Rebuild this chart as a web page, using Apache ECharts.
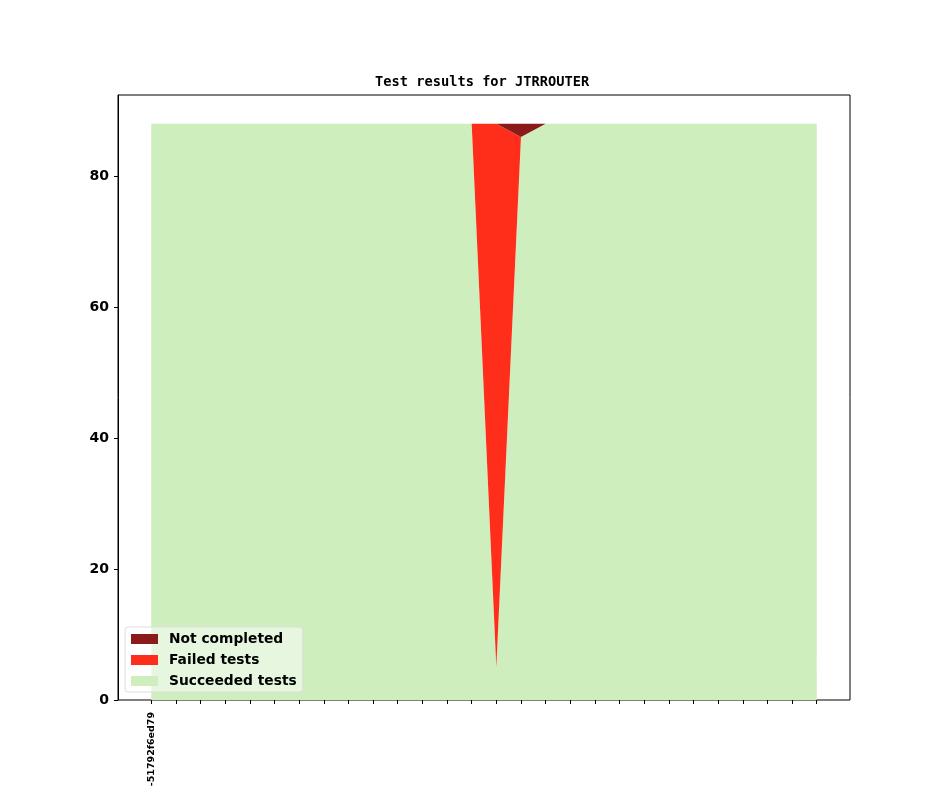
<!DOCTYPE html>
<html>
<head>
<meta charset="utf-8">
<script src="https://cdn.jsdelivr.net/npm/echarts@6/dist/echarts.min.js"></script>
<style>html,body{margin:0;padding:0;background:#fff;}#c{width:944px;height:787px;}</style>
</head>
<body>
<div id="c"></div>
<script>
var categories = ['-51792f6ed79','','','','','','','','','','','','','','','','','','','','','','','','','','',''];
var succeeded = [88,88,88,88,88,88,88,88,88,88,88,88,88,88,5,86,88,88,88,88,88,88,88,88,88,88,88,88];
var failed =    [0,0,0,0,0,0,0,0,0,0,0,0,0,0,83,0,0,0,0,0,0,0,0,0,0,0,0,0];
var notCompleted = [0,0,0,0,0,0,0,0,0,0,0,0,0,0,0,2,0,0,0,0,0,0,0,0,0,0,0,0];
var yTicks = [0,20,40,60,80];

var yMax = 88 * 1.05;
// frame box (matplotlib axes) and the inner data extent (5% margins on x)
var chartW = 944, frameL = 118, frameR = 94, frameT = 95, frameB = 87;
var frameW = chartW - frameL - frameR;
var inset = frameW * 0.05 / 1.1;

var chart = echarts.init(document.getElementById('c'));
chart.setOption({
  animation: false,
  title: {
    text: 'Test results for JTRROUTER',
    left: 370, top: 70,
    textStyle: { fontFamily: 'DejaVu Sans Mono', fontWeight: 'bold', fontSize: 13.7, color: '#000' }
  },
  grid: [
    { left: frameL + inset, right: frameR + inset, top: frameT, bottom: frameB, outerBoundsMode: 'none', containLabel: false },
    { left: frameL, right: frameR, top: frameT, bottom: frameB, outerBoundsMode: 'none', containLabel: false,
      show: true, borderColor: '#000', borderWidth: 1, backgroundColor: 'transparent' }
  ],
  legend: {
    orient: 'vertical', left: 125, top: 627,
    data: ['Not completed','Failed tests','Succeeded tests'],
    icon: 'rect', itemWidth: 27, itemHeight: 10, itemGap: 7,
    padding: [5, 6, 4, 6],
    backgroundColor: 'rgba(255,255,255,0.5)', borderColor: '#dddddd', borderWidth: 1, borderRadius: 3,
    textStyle: { fontFamily: 'DejaVu Sans', fontWeight: 'bold', fontSize: 13.8, color: '#000', padding: [0,0,0,6] }
  },
  xAxis: [
    { type: 'category', gridIndex: 0, data: categories, boundaryGap: false,
      axisLine: { show: false },
      axisTick: { show: true, interval: 0, length: 4, lineStyle: { color: '#000' } },
      axisLabel: { show: true, interval: 0, rotate: 90, margin: 12,
        fontFamily: 'DejaVu Sans', fontWeight: 'bold', fontSize: 9.5, color: '#000' },
      splitLine: { show: false } },
    { type: 'value', gridIndex: 1, show: false, min: 0, max: 1 }
  ],
  yAxis: [
    { type: 'value', gridIndex: 0, min: 0, max: yMax, show: false, splitLine: { show: false } },
    { type: 'value', gridIndex: 1, min: 0, max: yMax,
      axisLine: { show: true, lineStyle: { color: '#000' } },
      axisTick: { show: true, customValues: yTicks, length: 4, lineStyle: { color: '#000' } },
      axisLabel: { customValues: yTicks, margin: 9, fontFamily: 'DejaVu Sans', fontWeight: 'bold', fontSize: 14, color: '#000' },
      splitLine: { show: false } }
  ],
  series: [
    { name: 'Succeeded tests', type: 'line', stack: 'all', data: succeeded, showSymbol: false, symbol: 'none',
      lineStyle: { width: 0 }, itemStyle: { color: '#cfeebe' }, areaStyle: { color: '#cfeebe', opacity: 1 } },
    { name: 'Failed tests', type: 'line', stack: 'all', data: failed, showSymbol: false, symbol: 'none',
      lineStyle: { width: 0 }, itemStyle: { color: '#ff2e1a' }, areaStyle: { color: '#ff2e1a', opacity: 1 } },
    { name: 'Not completed', type: 'line', stack: 'all', data: notCompleted, showSymbol: false, symbol: 'none',
      lineStyle: { width: 0 }, itemStyle: { color: '#8b1a1a' }, areaStyle: { color: '#8b1a1a', opacity: 1 } }
  ]
});
</script>
</body>
</html>
